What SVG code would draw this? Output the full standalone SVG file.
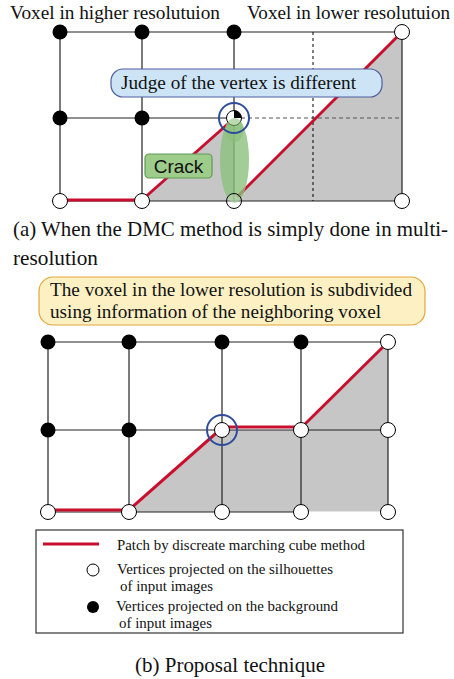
<svg xmlns="http://www.w3.org/2000/svg" width="454" height="679" viewBox="0 0 454 679">
<style>
.t{font-family:"Liberation Serif","Times New Roman",serif;fill:#111}
.g{stroke:#222;stroke-width:1.2;fill:none}
.red{stroke:#c8102e;stroke-width:3;fill:none;stroke-linecap:butt}
.b{fill:#000}
.w{fill:#fff;stroke:#000;stroke-width:1}
.blue{fill:none;stroke:#2d4c9b;stroke-width:2}
.shade{fill:#c6c6c6}
</style>
<rect width="454" height="679" fill="#fff"/>
<!-- Top figure -->
<g id="top-shade">
<polygon class="shade" points="142,201 231,121 234,121 234,201"/>
<polygon class="shade" points="234,201 402,32 402,201"/>
</g>
<g id="top-grid">
<line class="g" x1="60" y1="32" x2="402" y2="32"/>
<line class="g" x1="60" y1="201" x2="402" y2="201"/>
<line class="g" x1="60" y1="118" x2="234" y2="118"/>
<line class="g" x1="60" y1="32" x2="60" y2="201"/>
<line class="g" x1="142" y1="32" x2="142" y2="201"/>
<line class="g" x1="234" y1="32" x2="234" y2="201"/>
<line class="g" x1="402" y1="32" x2="402" y2="201"/>
<line x1="234" y1="118" x2="402" y2="118" stroke="#555" stroke-width="1.2" stroke-dasharray="4,3"/>
<line x1="313" y1="32" x2="313" y2="201" stroke="#000" stroke-width="1" stroke-dasharray="3,3"/>
</g>
<g id="top-patch">
<line class="red" x1="60" y1="200" x2="142" y2="200"/>
<line class="red" x1="142" y1="200" x2="230" y2="122"/>
<line class="red" x1="237" y1="197" x2="398" y2="36"/>
</g>
<g id="crack-ellipse">
<ellipse cx="234.5" cy="160" rx="14.5" ry="43" fill="#8cc07c" fill-opacity="0.8"/>
</g>
<g id="top-vertices">
<circle class="b" cx="60" cy="32" r="7.5"/>
<circle class="b" cx="142" cy="32" r="7.5"/>
<circle class="b" cx="234" cy="32" r="7.5"/>
<circle class="b" cx="60" cy="118" r="7.5"/>
<circle class="b" cx="142" cy="118" r="7.5"/>
<circle class="w" cx="402" cy="32" r="7.5"/>
<circle class="w" cx="60" cy="201" r="7.5"/>
<circle class="w" cx="142" cy="201" r="7.5"/>
<circle class="w" cx="234" cy="201" r="7.5" fill-opacity="0.2"/>
<circle class="w" cx="402" cy="201" r="7.5"/>
<circle class="w" cx="234" cy="118" r="7.5"/>
<path d="M234,118 L234,110.5 A7.5,7.5 0 0 1 241.5,118 Z" fill="#000"/>
<ellipse cx="234.5" cy="130" rx="9" ry="12" fill="#8cc07c" fill-opacity="0.6"/>
<circle class="blue" cx="234" cy="118" r="15"/>
</g>
<g id="judge-callout">
<rect x="111" y="69" width="271" height="28" rx="12" fill="#cce4f6" stroke="#4f5fa0" stroke-width="1.2"/>
<text class="t" x="121" y="89" font-size="18.5" textLength="235" lengthAdjust="spacingAndGlyphs">Judge of the vertex is different</text>
</g>
<g id="crack-label">
<rect x="145" y="154" width="67" height="24" rx="4" fill="#9dcc8b" stroke="#5e9c52" stroke-width="1.2"/>
<text x="178.5" y="173" font-family="Liberation Sans, Arial, sans-serif" font-size="19" text-anchor="middle" fill="#111">Crack</text>
</g>
<g id="top-labels">
<text class="t" x="10" y="19" font-size="19" textLength="210" lengthAdjust="spacingAndGlyphs">Voxel in higher resolutuion</text>
<text class="t" x="247" y="19" font-size="19" textLength="203" lengthAdjust="spacingAndGlyphs">Voxel in lower resolutuion</text>
<text class="t" x="13" y="236" font-size="21" textLength="435" lengthAdjust="spacingAndGlyphs">(a) When the DMC method is simply done in multi-</text>
<text class="t" x="13" y="265" font-size="21" textLength="85" lengthAdjust="spacingAndGlyphs">resolution</text>
</g>
<!-- Bottom figure -->
<g id="subdivide-callout">
<rect x="39" y="277" width="386" height="48" rx="14" fill="#fdf1c4" stroke="#e2a63c" stroke-width="1.2"/>
<text class="t" x="50" y="296" font-size="19" textLength="362" lengthAdjust="spacingAndGlyphs">The voxel in the lower resolution is subdivided</text>
<text class="t" x="50" y="318" font-size="19" textLength="331" lengthAdjust="spacingAndGlyphs">using information of the neighboring voxel</text>
</g>
<g id="bottom-shade">
<polygon class="shade" points="129,512 222,430 301,430 388,342 388,512"/>
</g>
<g id="bottom-grid">
<line class="g" x1="48" y1="342" x2="388" y2="342"/>
<line class="g" x1="48" y1="430" x2="388" y2="430"/>
<line class="g" x1="48" y1="512" x2="301" y2="512"/>
<line x1="301" y1="512" x2="388" y2="512" stroke="#fff" stroke-width="1.2"/>
<line class="g" x1="48" y1="342" x2="48" y2="512"/>
<line class="g" x1="129" y1="342" x2="129" y2="512"/>
<line class="g" x1="222" y1="342" x2="222" y2="512"/>
<line class="g" x1="301" y1="342" x2="301" y2="512"/>
<line class="g" x1="388" y1="342" x2="388" y2="512"/>
</g>
<g id="bottom-patch">
<line class="red" x1="48" y1="510" x2="129" y2="510"/>
<line class="red" x1="129" y1="510" x2="222" y2="428"/>
<line class="red" x1="222" y1="427" x2="301" y2="427"/>
<line class="red" x1="301" y1="428" x2="388" y2="342"/>
</g>
<g id="bottom-vertices">
<circle class="b" cx="48" cy="342" r="7.5"/>
<circle class="b" cx="129" cy="342" r="7.5"/>
<circle class="b" cx="222" cy="342" r="7.5"/>
<circle class="b" cx="301" cy="342" r="7.5"/>
<circle class="b" cx="48" cy="430" r="7.5"/>
<circle class="b" cx="129" cy="430" r="7.5"/>
<circle class="w" cx="388" cy="342" r="7.5"/>
<circle class="w" cx="222" cy="430" r="7.5"/>
<circle class="w" cx="301" cy="430" r="7.5"/>
<circle class="w" cx="388" cy="430" r="7.5"/>
<circle class="w" cx="48" cy="512" r="7.5"/>
<circle class="w" cx="129" cy="512" r="7.5"/>
<circle class="w" cx="222" cy="512" r="7.5"/>
<circle class="w" cx="301" cy="512" r="7.5"/>
<circle class="w" cx="388" cy="512" r="7.5"/>
<circle class="blue" cx="222" cy="430" r="15"/>
</g>
<g id="legend">
<rect x="36" y="530" width="367" height="103" fill="#fff" stroke="#333" stroke-width="1.2"/>
<line class="red" x1="43" y1="544" x2="99" y2="544"/>
<text class="t" x="117" y="550" font-size="15" textLength="248" lengthAdjust="spacingAndGlyphs">Patch by discreate marching cube method</text>
<circle class="w" cx="93" cy="570" r="6"/>
<text class="t" x="117" y="574" font-size="15" textLength="216" lengthAdjust="spacingAndGlyphs">Vertices projected on the silhouettes</text>
<text class="t" x="120" y="591" font-size="15" textLength="93" lengthAdjust="spacingAndGlyphs">of input images</text>
<circle class="b" cx="93" cy="607" r="6"/>
<text class="t" x="116" y="611" font-size="15" textLength="222" lengthAdjust="spacingAndGlyphs">Vertices projected on the background</text>
<text class="t" x="119" y="628" font-size="15" textLength="93" lengthAdjust="spacingAndGlyphs">of input images</text>
</g>
<g id="caption-b">
<text class="t" x="135" y="672" font-size="21" textLength="190" lengthAdjust="spacingAndGlyphs">(b) Proposal technique</text>
</g>
</svg>
